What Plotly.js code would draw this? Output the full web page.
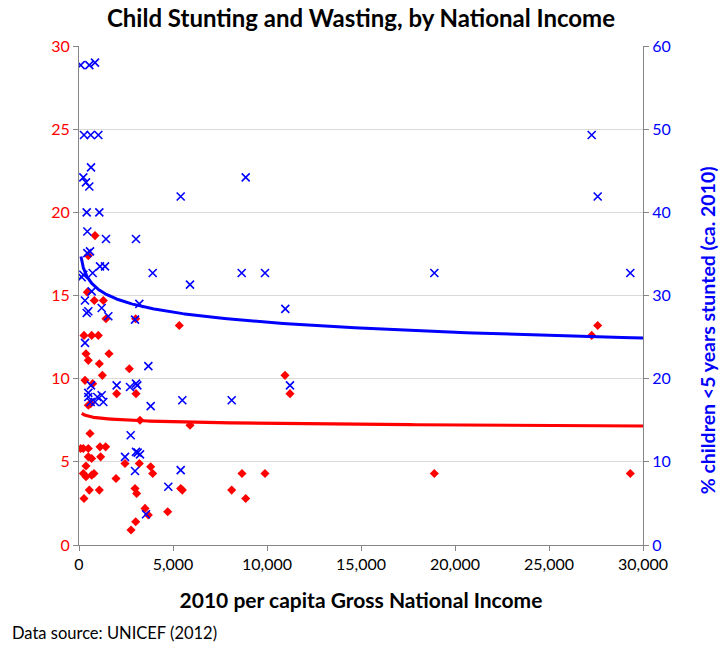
<!DOCTYPE html>
<html>
<head>
<meta charset="utf-8">
<script src="https://cdn.plot.ly/plotly-3.0.1.min.js"></script>
<style>
  html, body { margin: 0; padding: 0; background: #fff; }
  #chart { width: 722px; height: 647px; }
</style>
</head>
<body>
<div id="chart"></div>
<script>
// Wasting (% children <5 years wasted), left axis, red diamonds
const wastingGni = [851, 495, 443, 815, 1294, 1436, 3016, 5335, 266, 674, 1028, 372, 495, 1596, 1081, 2677, 1241, 319, 727, 2003, 3032, 495, 622, 3245, 585, 90, 230, 495, 1117, 1418, 495, 674, 1152, 2447, 3209, 372, 3813, 3920, 230, 372, 674, 798, 1968, 548, 1081, 2979, 3067, 266, 3511, 3688, 4718, 3016, 2766, 5904, 5409, 5495, 8670, 9893, 8122, 8867, 10957, 11223, 27270, 27590, 18900, 29325];
const wastingPct = [18.6, 17.4, 15.2, 14.7, 14.7, 13.6, 13.6, 13.2, 12.6, 12.6, 12.6, 11.5, 11.1, 11.5, 10.9, 10.6, 10.2, 9.9, 9.7, 9.1, 9.1, 8.4, 8.5, 7.5, 6.7, 5.8, 5.8, 5.8, 5.9, 5.9, 5.3, 5.2, 5.3, 4.9, 4.9, 4.75, 4.7, 4.3, 4.3, 4.1, 4.2, 4.3, 4.0, 3.3, 3.3, 3.4, 3.1, 2.8, 2.2, 1.8, 2.0, 1.4, 0.9, 7.2, 3.4, 3.3, 4.3, 4.3, 3.3, 2.8, 10.2, 9.1, 12.6, 13.2, 4.3, 4.3];

// Stunting (% children <5 years stunted), right axis, blue x markers
const stuntingGni = [90, 548, 851, 266, 622, 1028, 638, 230, 372, 548, 8867, 5409, 409, 1081, 443, 1436, 3032, 585, 443, 1117, 1383, 230, 727, 3920, 8654, 9893, 18900, 29325, 5904, 144, 674, 319, 3209, 1206, 409, 495, 1560, 2979, 10974, 319, 3688, 638, 2003, 2713, 3032, 3103, 495, 495, 622, 973, 1206, 1294, 851, 3813, 5495, 8122, 11223, 2749, 2447, 3032, 3120, 3245, 2979, 4750, 5409, 3564, 27270, 27590];
const stuntingPct = [57.7, 57.7, 58.0, 49.3, 49.3, 49.3, 45.4, 44.2, 43.6, 43.1, 44.2, 41.9, 40.0, 40.0, 37.7, 36.8, 36.8, 35.3, 35.1, 33.5, 33.5, 32.5, 32.7, 32.7, 32.7, 32.7, 32.7, 32.7, 31.3, 32.2, 30.5, 29.4, 29.0, 28.5, 27.9, 28.1, 27.5, 27.1, 28.4, 24.3, 21.5, 19.2, 19.2, 19.0, 19.4, 19.2, 18.3, 17.8, 17.2, 17.8, 18.0, 17.2, 17.2, 16.7, 17.4, 17.4, 19.2, 13.2, 10.6, 11.2, 11.1, 10.9, 8.9, 7.0, 9.0, 3.7, 49.3, 41.9];

// Logarithmic trendlines of the original chart (fitted on the full country set),
// sampled from the picture at several incomes
const wastingTrendGni = [144, 585, 1294, 3245, 5372, 7500, 9627, 17074, 18138, 30000];
const wastingTrendPct = [7.92, 7.71, 7.62, 7.47, 7.38, 7.32, 7.32, 7.27, 7.21, 7.17];
const stuntingTrendGni = [106, 144, 319, 940, 2181, 3245, 5372, 7500, 9627, 17074, 18138, 24521, 30000];
const stuntingTrendPct = [34.7, 34.3, 32.3, 30.9, 29.7, 29.1, 27.8, 27.3, 26.8, 25.9, 25.6, 25.2, 24.8];

const xTickVals = [0, 5000, 10000, 15000, 20000, 25000, 30000];

// Smooth logarithmic curve (y = a + b ln x) through the sampled trend values
function logFit(xs, ys) {
  const n = xs.length;
  let sx = 0, sy = 0, sxx = 0, sxy = 0;
  for (let i = 0; i < n; i++) {
    const lx = Math.log(xs[i]);
    sx += lx; sy += ys[i]; sxx += lx * lx; sxy += lx * ys[i];
  }
  const b = (n * sxy - sx * sy) / (n * sxx - sx * sx);
  const a = (sy - b * sx) / n;
  return { a, b };
}
function trendCurve(xs, ys) {
  const f = logFit(xs, ys);
  const lo = Math.log(Math.min.apply(null, xs));
  const hi = Math.log(Math.max.apply(null, xs));
  const tx = [], ty = [];
  const N = 300;
  for (let i = 0; i <= N; i++) {
    const lx = lo + (hi - lo) * i / N;
    tx.push(Math.exp(lx)); ty.push(f.a + f.b * lx);
  }
  return { tx, ty };
}
const tW = trendCurve(wastingTrendGni, wastingTrendPct);
const tS = trendCurve(stuntingTrendGni, stuntingTrendPct);

const RED = '#ff0000';
const BLUE = '#0000ff';
const FONT = 'Lato, Carlito, Calibri, "Open Sans", sans-serif';

const traces = [
  {
    x: wastingGni, y: wastingPct, type: 'scatter', mode: 'markers', yaxis: 'y',
    marker: { symbol: 'diamond', size: 7, color: RED, line: { width: 0 } },
    hoverinfo: 'x+y', showlegend: false
  },
  {
    x: stuntingGni, y: stuntingPct, type: 'scatter', mode: 'markers', yaxis: 'y2',
    marker: { symbol: 'x-thin-open', size: 8, color: BLUE, line: { width: 1.6, color: BLUE } },
    hoverinfo: 'x+y', showlegend: false
  },
  {
    x: tW.tx, y: tW.ty, type: 'scatter', mode: 'lines', yaxis: 'y',
    line: { color: RED, width: 3.2 }, hoverinfo: 'skip', showlegend: false
  },
  {
    x: tS.tx, y: tS.ty, type: 'scatter', mode: 'lines', yaxis: 'y2',
    line: { color: BLUE, width: 3 }, hoverinfo: 'skip', showlegend: false
  }
];

const layout = {
  width: 722, height: 647,
  margin: { l: 79, r: 79, t: 46, b: 102 },
  paper_bgcolor: '#ffffff', plot_bgcolor: '#ffffff',
  font: { family: FONT, size: 16, color: '#000' },
  showlegend: false,
  title: {
    text: '<b>Child Stunting and Wasting, by National Income</b>',
    font: { family: FONT, size: 24, color: '#000' },
    x: 0.5, xanchor: 'center', y: 0.972, yanchor: 'middle'
  },
  xaxis: {
    range: [0, 30000], tickvals: xTickVals, tickformat: ',d',
    showgrid: false, zeroline: false,
    showline: true, linecolor: '#868686', linewidth: 1,
    ticks: 'outside', ticklen: 5, tickcolor: '#868686',
    tickfont: { family: FONT, size: 16, color: '#000' },
    title: { text: '<b>2010 per capita Gross National Income</b>', font: { family: FONT, size: 21, color: '#000' }, standoff: 21 }
  },
  yaxis: {
    range: [0, 30], dtick: 5, tick0: 0,
    showgrid: true, gridcolor: '#d9d9d9', gridwidth: 1, zeroline: false,
    showline: true, linecolor: '#868686', linewidth: 1,
    ticks: 'outside', ticklen: 5, tickcolor: '#868686',
    tickfont: { family: FONT, size: 16, color: RED }
  },
  yaxis2: {
    range: [0, 60], dtick: 10, tick0: 0, overlaying: 'y', side: 'right',
    showgrid: false, zeroline: false,
    showline: true, linecolor: '#868686', linewidth: 1,
    ticks: 'outside', ticklen: 5, tickcolor: '#868686',
    tickfont: { family: FONT, size: 16, color: BLUE }
  },
  annotations: [
    {
      text: '<b>% children <5 years stunted (ca. 2010)</b>', xref: 'paper', yref: 'paper',
      x: 1.115, y: 0.43, xanchor: 'center', yanchor: 'middle', textangle: -90, showarrow: false,
      font: { family: FONT, size: 19.5, color: BLUE }
    },
    {
      text: 'Data source: UNICEF (2012)', xref: 'paper', yref: 'paper',
      x: -0.122, y: -0.176, xanchor: 'left', yanchor: 'middle', showarrow: false,
      font: { family: FONT, size: 16.5, color: '#000' }
    }
  ]
};

Plotly.newPlot('chart', traces, layout, { displayModeBar: false, staticPlot: true });
</script>
</body>
</html>
